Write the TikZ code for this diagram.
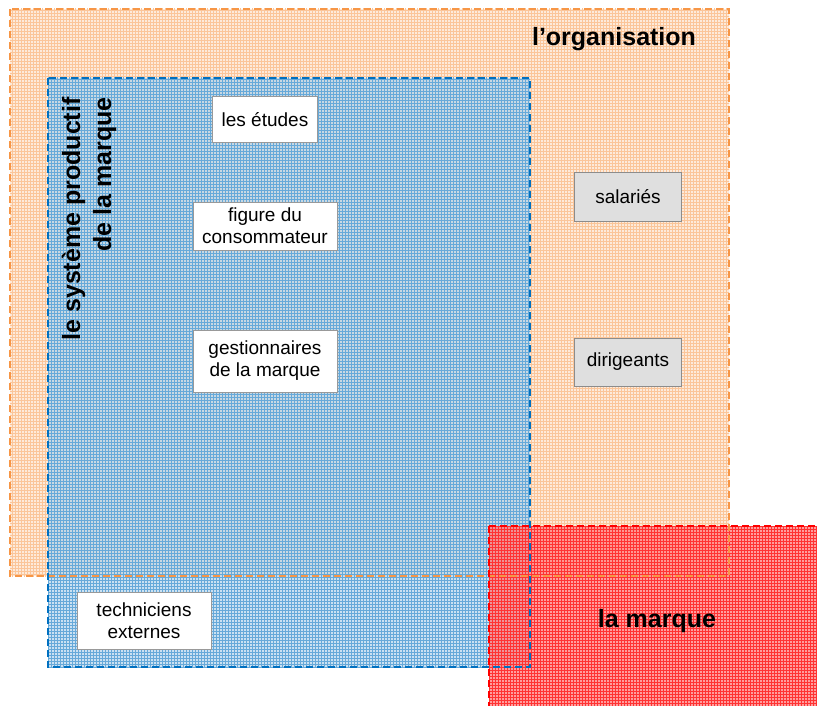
\documentclass[tikz,border=0pt]{standalone}
\usepackage{fontspec}
\setmainfont{Liberation Sans}
\usetikzlibrary{patterns}

\definecolor{orgorange}{RGB}{247,150,70}
\definecolor{sysblue}{RGB}{0,112,192}
\definecolor{mqred}{RGB}{255,0,0}

\tikzset{
  zone/.style={line width=1.4pt, dash pattern=on 7pt off 4pt},
  whitebox/.style={draw=gray!80, line width=1pt, fill=white, align=center,
    inner xsep=9pt, font=\fontsize{19}{22}\selectfont},
  graybox/.style={draw=gray!90, line width=1pt, fill=gray!25, align=center,
    minimum width=107pt, minimum height=48pt, font=\fontsize{19}{22}\selectfont},
  bigtitle/.style={font=\fontsize{25}{31}\selectfont\bfseries}
}

\begin{document}
\begin{tikzpicture}[x=1pt,y=-1pt]
  \useasboundingbox (0,0) rectangle (817,706);

  % l'organisation
  \fill[orgorange!20] (10,9) rectangle (729,576);
  \fill[pattern=grid, pattern color=orgorange!55] (10,9) rectangle (729,576);

  % systeme productif
  \fill[sysblue!35, fill opacity=0.6] (48,78) rectangle (530,667);
  \fill[pattern=grid, pattern color=sysblue!60] (48,78) rectangle (530,667);

  % la marque
  \fill[mqred!55, fill opacity=0.7] (489,526) rectangle (817,706);
  \fill[pattern=grid, pattern color=mqred!80] (489,526) rectangle (817,706);

  \draw[zone, orgorange] (10,9) rectangle (729,576);
  \draw[zone, sysblue] (48,78) rectangle (530,667);
  \draw[zone, mqred] (489,526) -- (817,526);
  \draw[zone, mqred] (489,526) -- (489,706);

  \node[bigtitle, anchor=base] (organisation) at (614,46) {l’organisation};
  \node[bigtitle, anchor=base] (marque) at (657,627) {la marque};
  \node[bigtitle, rotate=90, align=right] (systeme) at (89,219)
    {le système productif\\de la marque};

  \node[whitebox, minimum height=46pt] (etudes) at (265,120) {les études};
  \node[whitebox, minimum width=144pt, minimum height=48pt] (figure) at (265,226)
    {figure du\\consommateur};
  \node[whitebox, minimum width=144pt, minimum height=62pt] (gestion) at (265,361)
    {gestionnaires\\de la marque};
  \node[whitebox, minimum width=134pt, minimum height=57pt] (techniciens) at (144,621)
    {techniciens\\externes};

  \node[graybox] (salaries) at (628,197) {salariés};
  \node[graybox] (dirigeants) at (628,362) {dirigeants};
\end{tikzpicture}
\end{document}
